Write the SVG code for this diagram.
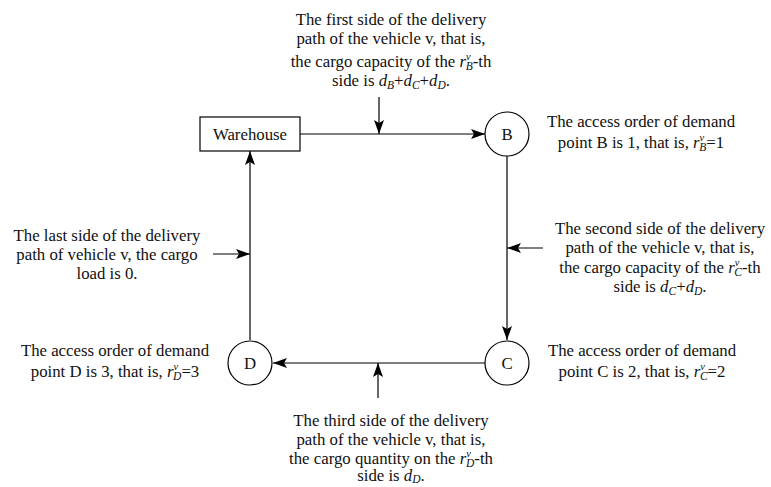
<svg xmlns="http://www.w3.org/2000/svg" width="771" height="487" viewBox="0 0 771 487">
<style>
text{font-family:"Liberation Serif","Times New Roman",serif;font-size:16.8px;fill:#111;text-anchor:middle}
.i{font-style:italic}
.s{font-size:11.5px;font-style:italic}
.p{font-size:10.5px;font-style:italic}
.node{fill:#fff;stroke:#000;stroke-width:1.2}
.edge{fill:none;stroke:#000;stroke-width:1.2}
</style>
<defs>
<marker id="ah" markerUnits="userSpaceOnUse" markerWidth="16" markerHeight="12" refX="14" refY="5" orient="auto">
<path d="M0,0 L14,5 L0,10 L3,5 Z" fill="#000"/>
</marker>
</defs>
<g id="connectors">
<line class="edge" x1="300" y1="134" x2="485" y2="134" marker-end="url(#ah)"/>
<line class="edge" x1="507" y1="156" x2="507" y2="340" marker-end="url(#ah)"/>
<line class="edge" x1="485" y1="363" x2="273" y2="363" marker-end="url(#ah)"/>
<line class="edge" x1="250" y1="340" x2="250" y2="151" marker-end="url(#ah)"/>
<line class="edge" x1="379" y1="97" x2="379" y2="134" marker-end="url(#ah)"/>
<line class="edge" x1="543" y1="248" x2="507" y2="248" marker-end="url(#ah)"/>
<line class="edge" x1="213" y1="254" x2="250" y2="254" marker-end="url(#ah)"/>
<line class="edge" x1="378" y1="398" x2="378" y2="363" marker-end="url(#ah)"/>
</g>
<g id="warehouse">
<rect class="node" x="200" y="117" width="100" height="34"/>
<text x="250" y="140">Warehouse</text>
</g>
<g id="B">
<circle class="node" cx="507" cy="134" r="22"/>
<text x="507" y="140">B</text>
</g>
<g id="C">
<circle class="node" cx="507" cy="363" r="22"/>
<text x="507" y="369">C</text>
</g>
<g id="D">
<circle class="node" cx="250" cy="363" r="22"/>
<text x="250" y="369">D</text>
</g>
<g id="label-first">
<text x="391" y="25">The first side of the delivery</text>
<text x="391" y="44">path of the vehicle v, that is,</text>
<text x="391" y="67">the cargo capacity of the <tspan class="i">r</tspan><tspan class="p" dy="-7">v</tspan><tspan class="s" dx="-5" dy="10">B</tspan><tspan dy="-3">-th</tspan></text>
<text x="391" y="86">side is <tspan class="i">d</tspan><tspan class="s" dy="3">B</tspan><tspan dy="-3">+</tspan><tspan class="i">d</tspan><tspan class="s" dy="3">C</tspan><tspan dy="-3">+</tspan><tspan class="i">d</tspan><tspan class="s" dy="3">D</tspan><tspan dy="-3">.</tspan></text>
</g>
<g id="label-B">
<text x="641" y="127">The access order of demand</text>
<text x="641" y="148">point B is 1, that is, <tspan class="i">r</tspan><tspan class="p" dy="-7">v</tspan><tspan class="s" dx="-5" dy="10">B</tspan><tspan dy="-3">=1</tspan></text>
</g>
<g id="label-second">
<text x="660" y="234">The second side of the delivery</text>
<text x="660" y="253">path of the vehicle v, that is,</text>
<text x="660" y="273">the cargo capacity of the <tspan class="i">r</tspan><tspan class="p" dy="-7">v</tspan><tspan class="s" dx="-5" dy="10">C</tspan><tspan dy="-3">-th</tspan></text>
<text x="660" y="292">side is <tspan class="i">d</tspan><tspan class="s" dy="3">C</tspan><tspan dy="-3">+</tspan><tspan class="i">d</tspan><tspan class="s" dy="3">D</tspan><tspan dy="-3">.</tspan></text>
</g>
<g id="label-last">
<text x="107" y="241">The last side of the delivery</text>
<text x="107" y="260">path of vehicle v, the cargo</text>
<text x="107" y="279">load is 0.</text>
</g>
<g id="label-C">
<text x="642" y="356">The access order of demand</text>
<text x="642" y="377">point C is 2, that is, <tspan class="i">r</tspan><tspan class="p" dy="-7">v</tspan><tspan class="s" dx="-5" dy="10">C</tspan><tspan dy="-3">=2</tspan></text>
</g>
<g id="label-D">
<text x="115" y="356">The access order of demand</text>
<text x="115" y="377">point D is 3, that is, <tspan class="i">r</tspan><tspan class="p" dy="-7">v</tspan><tspan class="s" dx="-5" dy="10">D</tspan><tspan dy="-3">=3</tspan></text>
</g>
<g id="label-third">
<text x="391" y="426">The third side of the delivery</text>
<text x="391" y="445">path of the vehicle v, that is,</text>
<text x="391" y="464">the cargo quantity on the <tspan class="i">r</tspan><tspan class="p" dy="-7">v</tspan><tspan class="s" dx="-5" dy="10">D</tspan><tspan dy="-3">-th</tspan></text>
<text x="391" y="481">side is <tspan class="i">d</tspan><tspan class="s" dy="2">D</tspan><tspan dy="-2">.</tspan></text>
</g>
</svg>
